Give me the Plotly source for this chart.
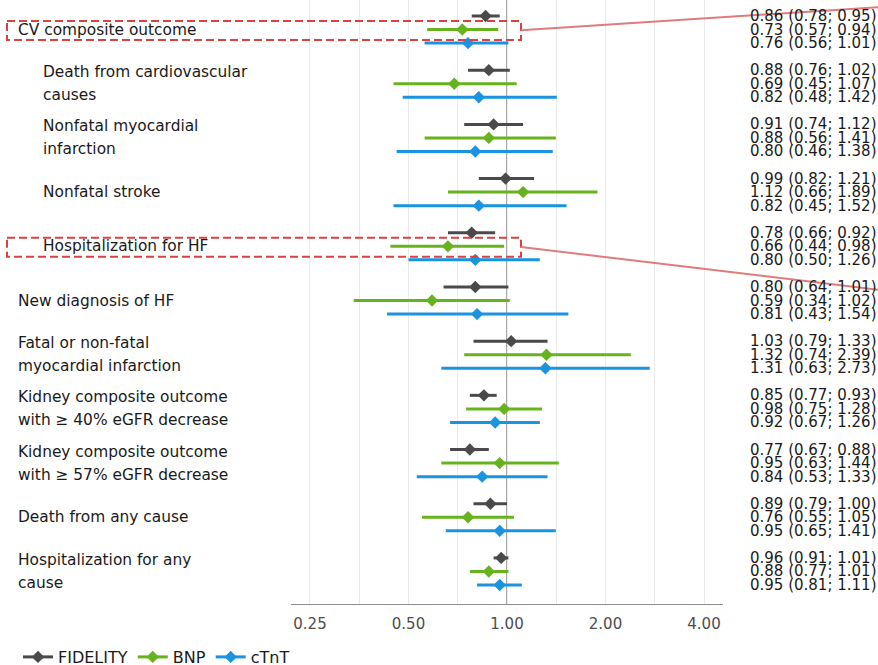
import math
import plotly.graph_objects as go

# ---------------- data ----------------
outcomes = [
    "CV composite outcome",
    "Death from cardiovascular causes",
    "Nonfatal myocardial infarction",
    "Nonfatal stroke",
    "Hospitalization for HF",
    "New diagnosis of HF",
    "Fatal or non-fatal myocardial infarction",
    "Kidney composite outcome with ≥ 40% eGFR decrease",
    "Kidney composite outcome with ≥ 57% eGFR decrease",
    "Death from any cause",
    "Hospitalization for any cause",
]
label_lines = [
    ["CV composite outcome"],
    ["Death from cardiovascular", "causes"],
    ["Nonfatal myocardial", "infarction"],
    ["Nonfatal stroke"],
    ["Hospitalization for HF"],
    ["New diagnosis of HF"],
    ["Fatal or non-fatal", "myocardial infarction"],
    ["Kidney composite outcome", "with ≥ 40% eGFR decrease"],
    ["Kidney composite outcome", "with ≥ 57% eGFR decrease"],
    ["Death from any cause"],
    ["Hospitalization for any", "cause"],
]
indented = [False, True, True, True, True, False, False, False, False, False, False]

series_names = ["FIDELITY", "BNP", "cTnT"]

fidelity_hr = [0.86, 0.88, 0.91, 0.99, 0.78, 0.80, 1.03, 0.85, 0.77, 0.89, 0.96]
fidelity_lo = [0.78, 0.76, 0.74, 0.82, 0.66, 0.64, 0.79, 0.77, 0.67, 0.79, 0.91]
fidelity_hi = [0.95, 1.02, 1.12, 1.21, 0.92, 1.01, 1.33, 0.93, 0.88, 1.00, 1.01]

bnp_hr = [0.73, 0.69, 0.88, 1.12, 0.66, 0.59, 1.32, 0.98, 0.95, 0.76, 0.88]
bnp_lo = [0.57, 0.45, 0.56, 0.66, 0.44, 0.34, 0.74, 0.75, 0.63, 0.55, 0.77]
bnp_hi = [0.94, 1.07, 1.41, 1.89, 0.98, 1.02, 2.39, 1.28, 1.44, 1.05, 1.01]

ctnt_hr = [0.76, 0.82, 0.80, 0.82, 0.80, 0.81, 1.31, 0.92, 0.84, 0.95, 0.95]
ctnt_lo = [0.56, 0.48, 0.46, 0.45, 0.50, 0.43, 0.63, 0.67, 0.53, 0.65, 0.81]
ctnt_hi = [1.01, 1.42, 1.38, 1.52, 1.26, 1.54, 2.73, 1.26, 1.33, 1.41, 1.11]

tick_vals = [0.25, 0.5, 1, 2, 4]
tick_text = ["0.25", "0.50", "1.00", "2.00", "4.00"]
minor_vals = [0.3536, 0.7071, 1.4142, 2.8284]

highlighted = ["CV composite outcome", "Hospitalization for HF"]

# ---------------- styling ----------------
colors = ["#4a4a4a", "#66b31e", "#1a94e0"]
FONT = "DejaVu Sans"
W, H = 878, 665
ML, MR, MT, MB = 291, 155, 0, 61
PW = W - ML - MR
YR = [43.4, -1.18]


def px_x(p):
    return (p - ML) / PW


series = [
    (fidelity_hr, fidelity_lo, fidelity_hi),
    (bnp_hr, bnp_lo, bnp_hi),
    (ctnt_hr, ctnt_lo, ctnt_hi),
]

fig = go.Figure()

# reference line at 1
fig.add_shape(type="line", xref="x", yref="paper", x0=1, x1=1, y0=0, y1=1,
              line=dict(color="#8c8c8c", width=1.5), layer="below")

for s, (hr, lo, hi) in enumerate(series):
    ys = [4 * i + s for i in range(len(outcomes))]
    lx, ly = [], []
    for i in range(len(outcomes)):
        lx += [lo[i], hi[i], None]
        ly += [ys[i], ys[i], None]
    fig.add_trace(go.Scatter(x=lx, y=ly, mode="lines",
                             line=dict(color=colors[s], width=3),
                             showlegend=False, hoverinfo="skip"))
    fig.add_trace(go.Scatter(x=hr, y=ys, mode="markers",
                             marker=dict(symbol="diamond", size=9.5, color=colors[s]),
                             showlegend=False))
    fig.add_trace(go.Scatter(x=[None], y=[None], mode="lines+markers",
                             name=series_names[s],
                             line=dict(color=colors[s], width=3),
                             marker=dict(symbol="diamond", size=9.5, color=colors[s])))

annotations = []
# left labels
for i, lines in enumerate(label_lines):
    xr = px_x(41) if indented[i] else px_x(16)
    center = 4 * i + 1
    if len(lines) == 1:
        offs = [0]
    else:
        offs = [-0.85, 0.85]
    for ln, o in zip(lines, offs):
        annotations.append(dict(text=ln, x=xr, xref="paper", xanchor="left",
                                y=center + o, yref="y", yanchor="middle",
                                showarrow=False,
                                font=dict(family=FONT, size=15.4, color="#1a1a1a")))
# right value text
for s, (hr, lo, hi) in enumerate(series):
    for i in range(len(outcomes)):
        annotations.append(dict(text=f"{hr[i]:.2f} ({lo[i]:.2f}; {hi[i]:.2f})",
                                x=px_x(879), xref="paper", xanchor="right",
                                y=4 * i + s, yref="y", yanchor="middle",
                                showarrow=False,
                                font=dict(family=FONT, size=15, color="#1a1a1a")))

# highlight boxes and callout lines
callout_end = {"CV composite outcome": -0.66, "Hospitalization for HF": 20.22}
for name in highlighted:
    i = outcomes.index(name)
    c = 4 * i + 1
    fig.add_shape(type="rect", xref="paper", yref="y",
                  x0=px_x(7), x1=px_x(521), y0=c - 0.63, y1=c + 0.77,
                  line=dict(color="#d9423f", width=2, dash="8px,4px"),
                  fillcolor="rgba(0,0,0,0)")
    fig.add_shape(type="line", xref="paper", yref="y",
                  x0=px_x(521), y0=c + 0.05, x1=px_x(880), y1=callout_end[name],
                  line=dict(color="#e07b7b", width=2))

fig.update_layout(
    width=W, height=H,
    margin=dict(l=ML, r=MR, t=MT, b=MB, autoexpand=False),
    plot_bgcolor="white", paper_bgcolor="white",
    font=dict(family=FONT, color="#1a1a1a"),
    annotations=annotations,
    showlegend=True,
    legend=dict(orientation="h", x=px_x(18), xanchor="left",
                yref="container", y=(H - 657) / H, yanchor="middle",
                font=dict(family=FONT, size=16, color="#1a1a1a"),
                bgcolor="rgba(0,0,0,0)", itemwidth=30),
    xaxis=dict(type="log", range=[-0.6601, 0.6601],
               tickvals=tick_vals, ticktext=tick_text,
               tickfont=dict(family=FONT, size=15, color="#4d4d4d"),
               showgrid=True, gridcolor="#ebebeb", gridwidth=1.2,
               minor=dict(tickvals=minor_vals, showgrid=True, gridcolor="#ebebeb", gridwidth=1.2),
               showline=True, linecolor="#8c8c8c", linewidth=1.2,
               ticks="outside", ticklen=6, tickcolor="rgba(0,0,0,0)",
               zeroline=False, fixedrange=True, automargin=False),
    yaxis=dict(range=YR, visible=False, showgrid=False, zeroline=False, fixedrange=True),
)

fig.write_html("out.html", config={"displayModeBar": False},
               post_script="document.body.style.margin='0';document.body.style.padding='0';")
